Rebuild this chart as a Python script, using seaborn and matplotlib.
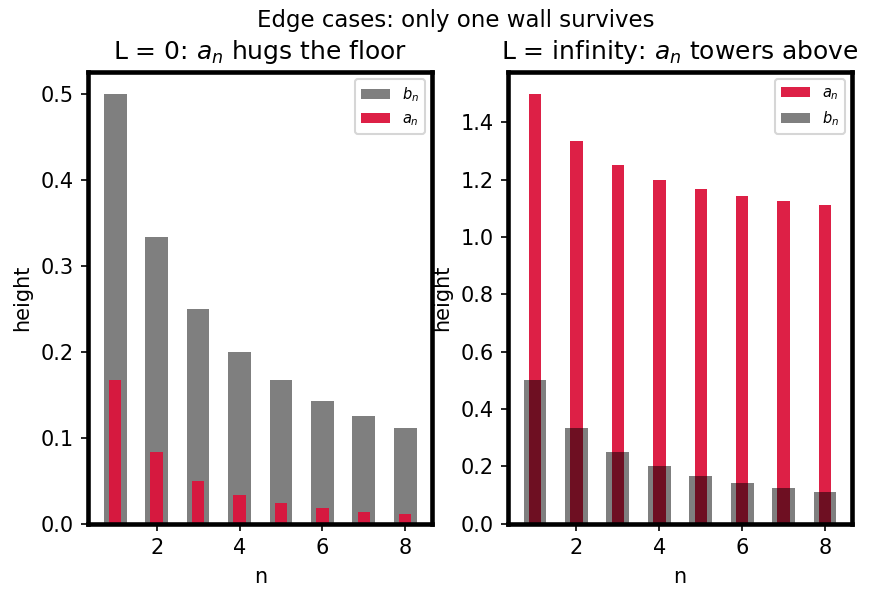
import matplotlib
matplotlib.use("Agg")
import matplotlib.pyplot as plt
import seaborn as sns

n = [1, 2, 3, 4, 5, 6, 7, 8]
b_n = [0.5, 0.3333, 0.25, 0.2, 0.1667, 0.1429, 0.125, 0.1111]
a_floor = [0.1667, 0.0833, 0.05, 0.0333, 0.0238, 0.0179, 0.0139, 0.0111]
a_tower = [1.5, 1.3333, 1.25, 1.2, 1.1667, 1.1429, 1.125, 1.1111]

fig, (ax1, ax2) = plt.subplots(1, 2, figsize=(5.82, 4), dpi=150)
fig.subplots_adjust(left=0.101, right=0.976, bottom=0.127, top=0.88, wspace=0.22)

# L = 0: b_n first, a_n on top
sns.barplot(x=n, y=b_n, native_scale=True, width=0.55, color="black", alpha=0.5,
            label="$b_n$", ax=ax1, saturation=1)
sns.barplot(x=n, y=a_floor, native_scale=True, width=0.3, color="crimson", alpha=0.95,
            label="$a_n$", ax=ax1, saturation=1)
ax1.set_title("L = 0: $a_n$ hugs the floor", fontsize=12)

# L = infinity: a_n first, b_n drawn over it
sns.barplot(x=n, y=a_tower, native_scale=True, width=0.3, color="crimson", alpha=0.95,
            label="$a_n$", ax=ax2, saturation=1)
sns.barplot(x=n, y=b_n, native_scale=True, width=0.55, color="black", alpha=0.5,
            label="$b_n$", ax=ax2, saturation=1)
ax2.set_title("L = infinity: $a_n$ towers above", fontsize=12)

for ax in (ax1, ax2):
    ax.set_xlabel("n")
    ax.set_ylabel("height")
    ax.xaxis.set_major_locator(matplotlib.ticker.AutoLocator())
    ax.margins(x=0.05)
    ax.legend(loc="upper right", fontsize=7)
    for sp in ax.spines.values():
        sp.set_linewidth(2.2)
        sp.set_color("black")

fig.suptitle("Edge cases: only one wall survives", fontsize=11, x=0.522, y=0.985)
fig.savefig("out.png", dpi=150)
